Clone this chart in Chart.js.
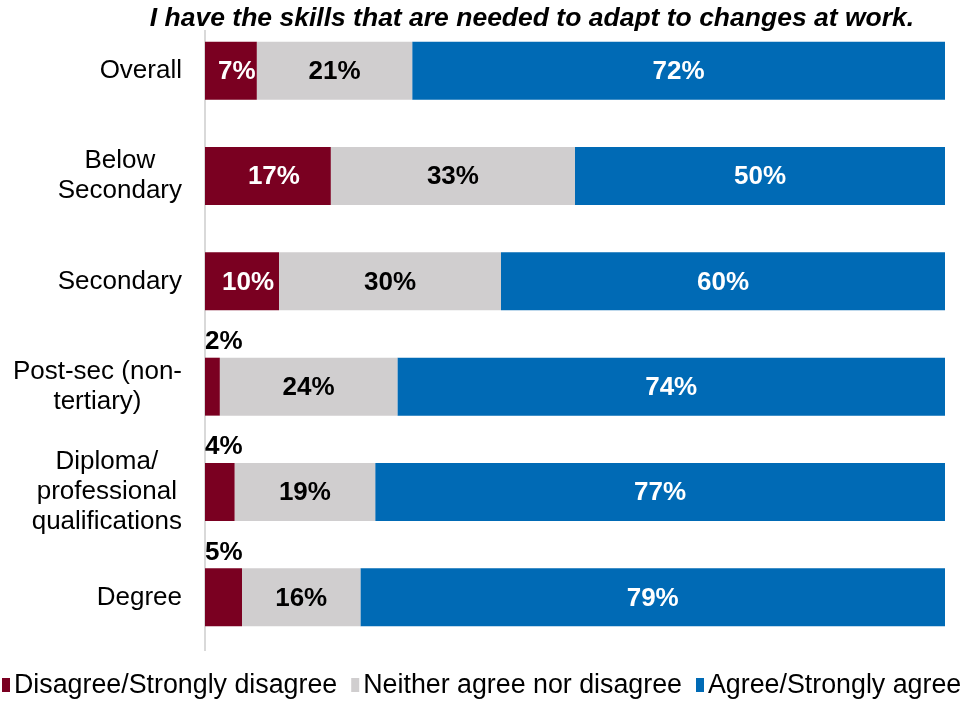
<!DOCTYPE html>
<html>
<head>
<meta charset="utf-8">
<script src="https://cdn.jsdelivr.net/npm/chart.js@4"></script>
<style>
  html, body { margin: 0; padding: 0; background: #fff; }
  #wrap { width: 974px; height: 702px; }
</style>
</head>
<body>
<div id="wrap"><canvas id="skillsChart" width="974" height="702"></canvas></div>
<script>
const categories = [
  ["Overall"],
  ["Below", "Secondary"],
  ["Secondary"],
  ["Post-sec (non-", "tertiary)"],
  ["Diploma/", "professional", "qualifications"],
  ["Degree"]
];
const disagree = [7, 17, 10, 2, 4, 5];
const neither = [21, 33, 30, 24, 19, 16];
const agree = [72, 50, 60, 74, 77, 79];

const titleText = "I have the skills that are needed to adapt to changes at work.";
const FONT = "'Liberation Sans', Arial, sans-serif";

// category names, centred line by line, block right-aligned to the axis
const catLabels = {
  id: "catLabels",
  afterDraw(chart) {
    const { ctx } = chart;
    const y = chart.scales.y;
    ctx.save();
    ctx.font = "26px " + FONT;
    ctx.fillStyle = "#000";
    ctx.textBaseline = "middle";
    ctx.textAlign = "center";
    const lh = 30;
    categories.forEach((lines, i) => {
      const cy = y.getPixelForValue(i);
      const w = Math.max(...lines.map(l => ctx.measureText(l).width));
      const cx = 182 - w / 2;
      lines.forEach((l, j) => {
        ctx.fillText(l, cx, cy + (j - (lines.length - 1) / 2) * lh);
      });
    });
    ctx.restore();
  }
};

// percentage labels on the segments
const valueLabels = {
  id: "valueLabels",
  afterDatasetsDraw(chart) {
    const { ctx } = chart;
    ctx.save();
    ctx.font = "bold 26px " + FONT;
    ctx.textBaseline = "middle";
    chart.data.datasets.forEach((ds, di) => {
      chart.getDatasetMeta(di).data.forEach((bar, i) => {
        const v = ds.data[i];
        const txt = v + "%";
        if (di === 0 && v < 7) {
          ctx.fillStyle = "#000";
          ctx.textAlign = "left";
          ctx.fillText(txt, bar.base, bar.y - bar.height / 2 - 16);
          return;
        }
        ctx.fillStyle = di === 1 ? "#000" : "#fff";
        ctx.textAlign = "center";
        ctx.fillText(txt, (bar.x + bar.base) / 2 + (di === 0 ? 6 : 0), bar.y + 1);
      });
    });
    ctx.restore();
  }
};

// italic heading across the top
const heading = {
  id: "heading",
  afterDraw(chart) {
    const { ctx } = chart;
    ctx.save();
    ctx.fillStyle = "#fff";
    ctx.fillRect(0, 0, chart.width, 30);
    ctx.font = "italic bold 26.5px " + FONT;
    ctx.fillStyle = "#000";
    ctx.textAlign = "center";
    ctx.textBaseline = "alphabetic";
    ctx.fillText(titleText, 532, 26);
    ctx.restore();
  }
};

// single-row legend along the bottom edge
const bottomLegend = {
  id: "bottomLegend",
  afterDraw(chart) {
    const { ctx } = chart;
    ctx.save();
    ctx.font = "26.8px " + FONT;
    ctx.textBaseline = "middle";
    ctx.textAlign = "left";
    let x = 2;
    const cy = 686;
    chart.data.datasets.forEach(ds => {
      ctx.fillStyle = ds.backgroundColor;
      ctx.fillRect(x, cy - 8, 8, 14);
      x += 12;
      ctx.fillStyle = "#000";
      ctx.fillText(ds.label, x, cy);
      x += ctx.measureText(ds.label).width + 14;
    });
    ctx.restore();
  }
};

const ctx = document.getElementById("skillsChart").getContext("2d");
new Chart(ctx, {
  type: "bar",
  data: {
    labels: categories,
    datasets: [
      { label: "Disagree/Strongly disagree", data: disagree, backgroundColor: "#7a0021" },
      { label: "Neither agree nor disagree", data: neither, backgroundColor: "#d0cecf" },
      { label: "Agree/Strongly agree", data: agree, backgroundColor: "#006ab5" }
    ]
  },
  options: {
    indexAxis: "y",
    responsive: false,
    animation: false,
    categoryPercentage: 1,
    barPercentage: 0.55,
    layout: { padding: { top: 18, right: 29, left: 0, bottom: 52 } },
    scales: {
      x: { stacked: true, min: 0, max: 100, display: false },
      y: {
        stacked: true,
        grid: { display: false },
        border: { display: true, color: "#d9d9d9", width: 2 },
        ticks: { display: false },
        afterFit(scale) { scale.width = 205; }
      }
    },
    plugins: {
      legend: { display: false },
      tooltip: { enabled: false }
    }
  },
  plugins: [catLabels, valueLabels, heading, bottomLegend]
});
</script>
</body>
</html>
